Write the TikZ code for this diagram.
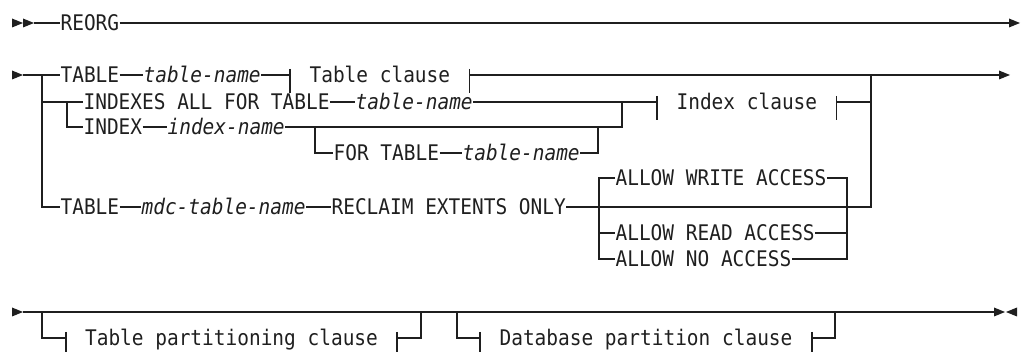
\documentclass[tikz,border=0pt]{standalone}
\usepackage{fontspec}
\setmonofont[FakeStretch=0.905]{DejaVu Sans Mono}
\newcommand\rrfont{\fontsize{21.5pt}{24pt}\selectfont\ttfamily}
\newcommand\fragticks[1]{\draw ([yshift=6pt]#1.west) -- ([yshift=-18pt]#1.west) ([yshift=6pt]#1.east) -- ([yshift=-18pt]#1.east);}
\newcommand\tipright[1]{\fill (#1) ++(0,-4.5) -- ++(11,4.5) -- ++(-11,4.5) -- cycle;}
\newcommand\tipleft[1]{\fill (#1) ++(0,-4.5) -- ++(-11,4.5) -- ++(11,4.5) -- cycle;}
\begin{document}
\begin{tikzpicture}[x=1pt,y=-1pt,line width=1.15pt,color=black!88,
  kw/.style={inner sep=0pt,anchor=west,text height=15.7pt,text depth=0pt,font=\rrfont},
  var/.style={kw,font=\rrfont\itshape},
  frag/.style={kw,inner xsep=19pt}]
\useasboundingbox (0,0) rectangle (1021,352);
% ---------- row 1
\coordinate (s1) at (12,23);
\coordinate (s1b) at (23,23);
\coordinate (s1c) at (34,23);
\coordinate (e1) at (1009,23);
\node[kw] (reorg) at (60,23) {REORG};
\tipright{s1} \tipright{s1b}
\draw (s1c) -- (reorg.west);
\draw (reorg.east) -- (e1);
\tipright{e1}
% ---------- row 2
\coordinate (s2) at (12,75);
\coordinate (s2b) at (23,75);
\coordinate (j1) at (42,75);
\coordinate (j2) at (67,102);
\coordinate (rj) at (871,75);
\coordinate (e2) at (999,75);
\node[kw] (tb1) at (60,75) {TABLE};
\node[var] (tn1) at (143,75) {table-name};
\node[frag] (tcl) at (290,75) {Table clause};
\node[kw] (ixs) at (83,102) {INDEXES ALL FOR TABLE};
\node[var] (tn2) at (355,102) {table-name};
\node[frag] (icl) at (657,102) {Index clause};
\node[kw] (idx) at (83,127) {INDEX};
\node[var] (inm) at (167,127) {index-name};
\node[kw] (ft) at (333,153) {FOR TABLE};
\node[var] (tn3) at (462,153) {table-name};
\node[kw] (tb2) at (60,207) {TABLE};
\node[var] (mdc) at (141,207) {mdc-table-name};
\node[kw] (rec) at (331,207) {RECLAIM EXTENTS ONLY};
\node[kw] (aw) at (615,178) {ALLOW WRITE ACCESS};
\node[kw] (ar) at (615,233) {ALLOW READ ACCESS};
\node[kw] (an) at (615,259) {ALLOW NO ACCESS};
\coordinate (j3) at (622,102);
\coordinate (j4) at (315,127);
\coordinate (j5) at (598,127);
\coordinate (ch) at (599,207);
\coordinate (chr) at (847,207);
\tipright{s2}
\draw (s2b) -- (tb1.west);
\draw (tb1.east) -- (tn1.west);
\draw (tn1.east) -- (tcl.west);
\draw (tcl.east) -- (e2);
\tipright{e2}
\fragticks{tcl}
\draw (j1) |- (tb2.west);
\draw (j1 |- ixs.west) -- (ixs.west);
\draw (j2) |- (idx.west);
\draw (ixs.east) -- (tn2.west);
\draw (tn2.east) -- (icl.west);
\fragticks{icl}
\draw (icl.east) -| (rj);
\draw (idx.east) -- (inm.west);
\draw (inm.east) -| (j3);
\draw (j4) |- (ft.west);
\draw (ft.east) -- (tn3.west);
\draw (tn3.east) -| (j5);
\draw (tb2.east) -- (mdc.west);
\draw (mdc.east) -- (rec.west);
\draw (rec.east) -- (chr) -| (rj);
\draw (aw.west) -| (ch |- an.west) -- (an.west);
\draw (ch |- ar.west) -- (ar.west);
\draw (aw.east) -| (chr |- an.east) -- (an.east);
\draw (ar.east) -- (chr |- ar.east);
% ---------- row 3
\coordinate (s3) at (12,312);
\coordinate (s3b) at (23,312);
\coordinate (b1) at (42,312);
\coordinate (b2) at (421,312);
\coordinate (b3) at (457,312);
\coordinate (b4) at (835,312);
\coordinate (e3) at (994,312);
\coordinate (e3b) at (1017,312);
\node[frag,inner xsep=18.5pt] (tp) at (66,338) {Table partitioning clause};
\node[frag] (dp) at (480,338) {Database partition clause};
\tipright{s3}
\draw (s3b) -- (e3);
\tipright{e3} \tipleft{e3b}
\draw (b1) |- (tp.west);
\draw (tp.east) -| (b2);
\fragticks{tp}
\draw (b3) |- (dp.west);
\draw (dp.east) -| (b4);
\fragticks{dp}
\end{tikzpicture}
\end{document}
